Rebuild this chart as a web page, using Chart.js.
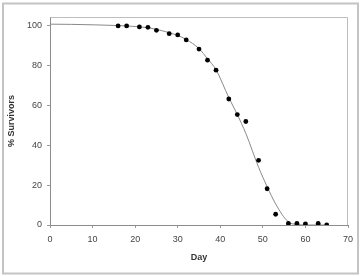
<!DOCTYPE html>
<html>
<head>
<meta charset="utf-8">
<script src="https://cdn.jsdelivr.net/npm/chart.js@4/dist/chart.umd.min.js"></script>
<style>
  html, body { margin: 0; padding: 0; background: #fff; }
  #wrap { position: absolute; left: 0; top: 0; width: 364px; height: 276px; }
</style>
</head>
<body>
<div id="wrap"><canvas id="c" width="364" height="276"></canvas></div>
<script>
// Observed data points
const days = [16, 18, 21, 23, 25, 28, 30, 32, 35, 37, 39, 42, 44, 46, 49, 51, 53, 56, 58, 60, 63, 65];
const survivors = [100, 100, 99.5, 99.3, 97.8, 96.1, 95.5, 93, 88.4, 82.8, 77.8, 63.3, 55.5, 52, 32.5, 18.2, 5.4, 0.8, 0.8, 0.6, 0.8, 0];

// Fitted curve
const fitDays = [0, 5, 16, 18, 21, 23, 25, 28, 30, 32, 35, 37, 39, 42, 44, 46, 49, 51, 53, 56, 58, 60, 63, 65];
const fitValues = [100.9, 100.8, 100.2, 100, 99.6, 99.1, 98.3, 96.6, 95.2, 93.2, 88.6, 83.5, 78, 64, 55.5, 46, 29, 19.3, 10.6, 1.5, 0.3, 0, 0, 0];

// Axis labels / ticks
const xTitle = 'Day';
const yTitle = '% Survivors';
const xTicks = [0, 10, 20, 30, 40, 50, 60, 70];
const yTicks = [0, 20, 40, 60, 80, 100];

const FONT = '"Liberation Sans", Arial, sans-serif';

const framePlugin = {
  id: 'frames',
  beforeDraw(chart) {
    const ctx = chart.ctx;
    ctx.save();
    ctx.fillStyle = '#fff';
    ctx.fillRect(0, 0, chart.width, chart.height);
    ctx.strokeStyle = '#c4c4c4';
    ctx.lineWidth = 2;
    ctx.strokeRect(3, 3.5, 355, 270);
    ctx.restore();
  },
  beforeDatasetsDraw(chart) {
    const ctx = chart.ctx;
    const a = chart.chartArea;
    ctx.save();
    ctx.strokeStyle = '#bdbdbd';
    ctx.lineWidth = 1;
    ctx.beginPath();
    ctx.moveTo(Math.round(a.left) + 0.5, Math.round(a.top) + 0.5);
    ctx.lineTo(Math.round(a.right) - 0.5, Math.round(a.top) + 0.5);
    ctx.lineTo(Math.round(a.right) - 0.5, Math.round(a.bottom));
    ctx.stroke();
    ctx.restore();
  }
};

new Chart(document.getElementById('c'), {
  type: 'scatter',
  data: {
    datasets: [
      {
        data: fitDays.map((d, i) => ({ x: d, y: fitValues[i] })),
        showLine: true,
        borderColor: '#8a8a8a',
        borderWidth: 1,
        pointRadius: 0,
        cubicInterpolationMode: 'monotone',
        fill: false,
        order: 2
      },
      {
        data: days.map((d, i) => ({ x: d, y: survivors[i] })),
        showLine: false,
        pointRadius: 2.4,
        pointBackgroundColor: '#000',
        pointBorderColor: '#000',
        pointBorderWidth: 0,
        order: 1
      }
    ]
  },
  options: {
    responsive: false,
    animation: false,
    devicePixelRatio: 1,
    layout: { padding: { top: 17, right: 16, bottom: 0, left: 0 } },
    plugins: { legend: { display: false }, tooltip: { enabled: false } },
    scales: {
      x: {
        type: 'linear',
        min: 0, max: 70,
        afterFit(s) { s.height = 51; },
        afterBuildTicks(s) { s.ticks = xTicks.map(v => ({ value: v })); },
        ticks: { color: '#444', padding: 6, font: { family: FONT, size: 9 }, maxRotation: 0 },
        grid: { drawOnChartArea: false, drawTicks: true, tickLength: 3, color: '#9a9a9a' },
        border: { display: true, color: '#8c8c8c', width: 1 },
        title: { display: true, text: xTitle, color: '#333', font: { family: FONT, size: 9, weight: 'bold' }, padding: { top: 0, bottom: 13 } }
      },
      y: {
        type: 'linear',
        min: 0, max: 104.5,
        afterFit(s) { s.width = 50; },
        afterBuildTicks(s) { s.ticks = yTicks.map(v => ({ value: v })); },
        ticks: { color: '#444', padding: 5, font: { family: FONT, size: 9 } },
        grid: { drawOnChartArea: false, drawTicks: true, tickLength: 3, color: '#9a9a9a' },
        border: { display: true, color: '#8c8c8c', width: 1 },
        title: { display: true, text: yTitle, color: '#333', font: { family: FONT, size: 9, weight: 'bold' }, padding: { top: 6, bottom: 0 } }
      }
    }
  },
  plugins: [framePlugin]
});
</script>
</body>
</html>
